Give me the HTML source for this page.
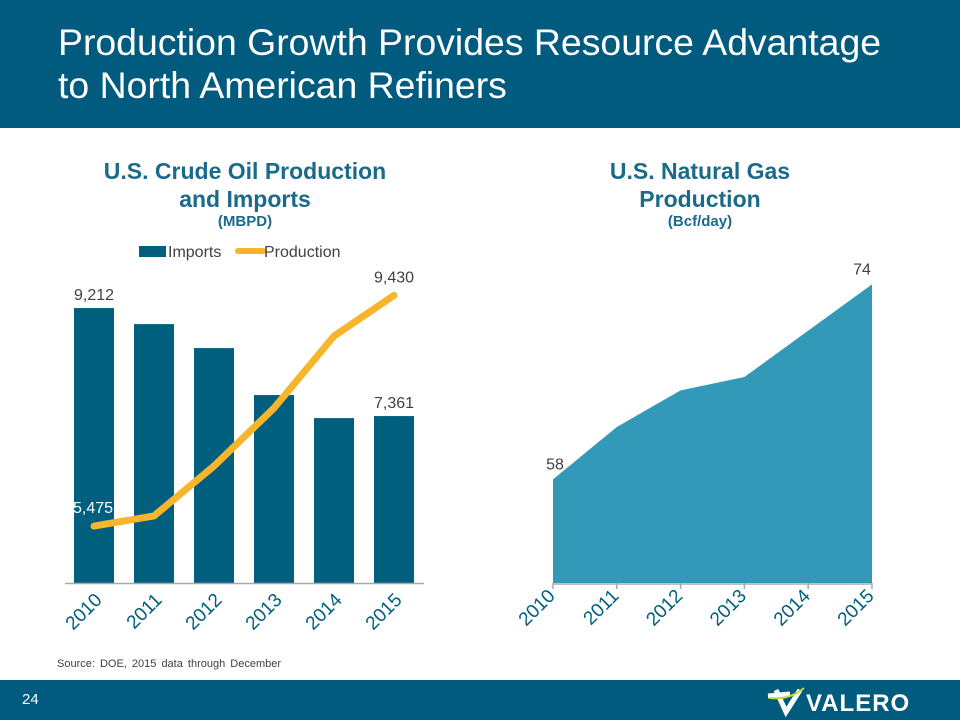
<!DOCTYPE html>
<html><head><meta charset="utf-8"><style>
body{margin:0;width:960px;height:720px;overflow:hidden;background:#fff;font-family:"Liberation Sans",Arial,sans-serif;}
#hdr{position:absolute;left:0;top:0;width:960px;height:128px;background:#005b7f;}
#hdr h1{position:absolute;left:58px;top:21px;margin:0;font-weight:normal;color:#fff;font-size:37.4px;line-height:43px;white-space:nowrap;}
#ftr{position:absolute;left:0;top:680px;width:960px;height:40px;background:#005b7f;}
svg{position:absolute;left:0;top:0;}
</style></head><body>
<div id="hdr"><h1>Production Growth Provides Resource Advantage<br>to North American Refiners</h1></div>
<div id="ftr"></div>
<svg id="s" width="960" height="720">
<g font-family="Liberation Sans, Arial, sans-serif">
<text x="245" y="179" text-anchor="middle" font-size="23" font-weight="bold" fill="#1a6a8a">U.S. Crude Oil Production</text>
<text x="245" y="207" text-anchor="middle" font-size="23" font-weight="bold" fill="#1a6a8a">and Imports</text>
<text x="245" y="226" text-anchor="middle" font-size="15" font-weight="bold" fill="#1a6a8a">(MBPD)</text>
<text x="700" y="179" text-anchor="middle" font-size="23" font-weight="bold" fill="#1a6a8a">U.S. Natural Gas</text>
<text x="700" y="207" text-anchor="middle" font-size="23" font-weight="bold" fill="#1a6a8a">Production</text>
<text x="700" y="226" text-anchor="middle" font-size="15" font-weight="bold" fill="#1a6a8a">(Bcf/day)</text>
<rect x="139" y="246" width="27" height="11" fill="#005f7f"/>
<text x="168" y="257" font-size="16" fill="#404040">Imports</text>
<line x1="238" y1="251" x2="263" y2="251" stroke="#f7b52c" stroke-width="6" stroke-linecap="round"/>
<text x="264" y="257" font-size="16" fill="#404040">Production</text>
<text x="57" y="667" font-size="11" fill="#404040" word-spacing="2">Source:   DOE, 2015 data through December</text>
<text x="22" y="704" font-size="15" fill="#fff">24</text>
<text x="806" y="711" font-size="24" font-weight="bold" fill="#fff" letter-spacing="1">VALERO</text>
<path d="M768 696 L790 694 M776 690 L786 712 L800 690" stroke="#fff" stroke-width="5" fill="none"/>
<path d="M770 698 Q790 700 804 688" stroke="#c9d640" stroke-width="2" fill="none"/>
</g>
<g id="left"></g><g id="right"></g>
</svg>
<script>
const years=["2010","2011","2012","2013","2014","2015"];
const imports=[9212,8937,8526,7721,7326,7361];
const production=[5475,5650,6505,7498,8732,9430];
const gas=[58,62.3,65.3,66.4,70.2,74];
const impLabels={0:"9,212",5:"7,361"};
const prodLabels={0:"5,475",5:"9,430"};
const gasLabels={0:"58",5:"74"};
const NS="http://www.w3.org/2000/svg";
function mk(p,t,a){const e=document.createElementNS(NS,t);for(const k in a)e.setAttribute(k,a[k]);p.appendChild(e);return e;}
const L=document.getElementById('left'),R=document.getElementById('right');
const base=583;
const ly=v=>base-(v-4500)*0.05835;
const lx=i=>94+i*60;
imports.forEach((v,i)=>{const r=mk(L,'rect',{x:lx(i)-20,y:ly(v),width:40,height:base-ly(v),fill:'#005f7f'});

});
const ax=mk(L,'line',{x1:65,y1:base+0.5,x2:424,y2:base+0.5,stroke:'#aaa','stroke-width':1.5});


const pl=mk(L,'polyline',{points:production.map((v,i)=>lx(i)+','+ly(v)).join(' '),fill:'none',stroke:'#f7b52c','stroke-width':7,'stroke-linecap':'round','stroke-linejoin':'round'});


function lbl(g,x,y,t,anchor,name,size,color){const e=mk(g,'text',{x:x,y:y,'text-anchor':anchor,'font-size':size,fill:color,'font-family':'Liberation Sans, Arial, sans-serif'});e.textContent=t;

return e;}
for(const i in impLabels)lbl(L,lx(+i),ly(imports[i])-8,impLabels[i],'middle','imports-label-'+years[i],16,'#404040');
lbl(L,lx(0)-1,ly(production[0])-13,prodLabels[0],'middle','production-label-2010',16,'#ffffff');
lbl(L,lx(5),ly(production[5])-13,prodLabels[5],'middle','production-label-2015',16,'#404040');
years.forEach((y,i)=>{const t=lbl(L,lx(i)+9,601,y,'end','left-x-label-'+y,19,'#005f7f');t.setAttribute('transform','rotate(-45 '+(lx(i)+9)+' 601)');});
const rx=i=>553+i*63.8;
const ry=v=>base-(v-49.5)*12.19;
const ar=mk(R,'polygon',{points:rx(0)+','+base+' '+gas.map((v,i)=>rx(i)+','+ry(v)).join(' ')+' '+rx(5)+','+base,fill:'#3399b8'});


const ax2=mk(R,'line',{x1:553,y1:base+1,x2:rx(5),y2:base+1,stroke:'#aaa','stroke-width':1.5});


years.forEach((y,i)=>{const tk=mk(R,'line',{x1:rx(i),y1:base,x2:rx(i),y2:base+6,stroke:'#aaa','stroke-width':1.5});


const t=lbl(R,rx(i)+3,597,y,'end','right-x-label-'+y,19,'#005f7f');t.setAttribute('transform','rotate(-45 '+(rx(i)+3)+' 597)');});
for(const i in gasLabels)lbl(R,rx(+i)-(+i===0?-2:10),ry(gas[i])-10,gasLabels[i],'middle','gas-label-'+years[i],16,'#404040');
</script>
</body></html>
